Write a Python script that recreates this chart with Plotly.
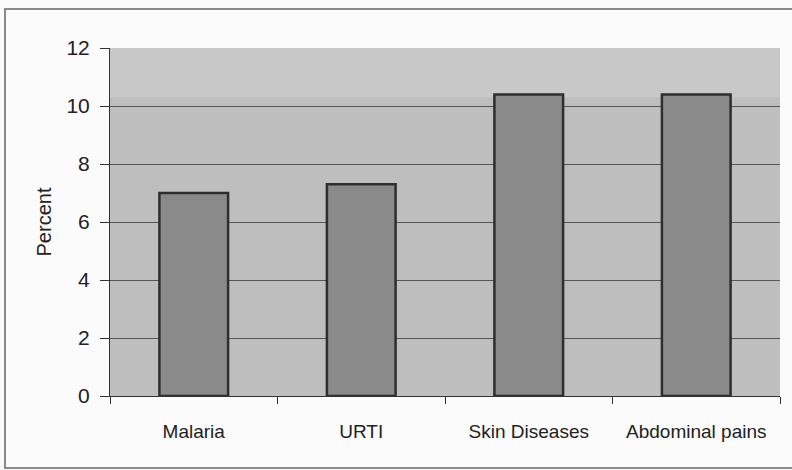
import plotly.graph_objects as go

categories = ["Malaria", "URTI", "Skin Diseases", "Abdominal pains"]
percent = [7.0, 7.3, 10.4, 10.4]
y_ticks = [0, 2, 4, 6, 8, 10, 12]

fig = go.Figure(go.Bar(
    x=categories, y=percent,
    marker=dict(color="#8a8a8a", line=dict(color="#2e2e2e", width=2.5)),
    width=0.41,
))

fig.update_layout(
    width=792, height=470,
    margin=dict(l=110, r=12, t=48, b=74),
    paper_bgcolor="#fbfbfb",
    plot_bgcolor="#bebebe",
    font=dict(family="Liberation Sans, Arial", color="#222222"),
    showlegend=False,
    shapes=[
        dict(type="rect", xref="paper", yref="paper", x0=-0.1567, x1=1.03, y0=-0.207, y1=1.112,
             line=dict(color="#8a8a8a", width=2), fillcolor="rgba(0,0,0,0)", layer="below"),
        dict(type="rect", xref="paper", yref="y", x0=0, x1=1, y0=10.3, y1=12,
             line=dict(width=0), fillcolor="#c8c8c8", layer="below"),
    ],
)
fig.update_xaxes(
    showgrid=False, showline=True, linecolor="#333333", linewidth=1,
    ticks="outside", tickson="boundaries", ticklen=7, tickcolor="#333333",
    tickfont=dict(size=19), range=[-0.5, 3.5], ticklabelstandoff=18,
)
fig.update_yaxes(
    range=[0, 12], tickvals=y_ticks, showgrid=True, gridcolor="#555555", gridwidth=1,
    showline=True, linecolor="#333333", linewidth=1,
    ticks="outside", ticklen=9, tickcolor="#333333", tickfont=dict(size=21),
    ticklabelstandoff=6,
    title=dict(text="Percent", font=dict(size=20), standoff=9),
    zeroline=False,
)

fig.write_html("out.html", config={"displayModeBar": False},
               post_script="document.body.style.margin='0';document.body.style.padding='0';")
